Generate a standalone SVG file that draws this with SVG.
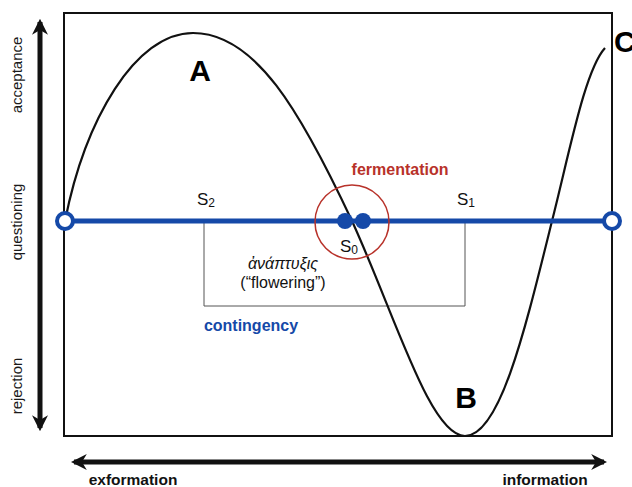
<svg xmlns="http://www.w3.org/2000/svg" width="632" height="487" viewBox="0 0 632 487">
<defs>
<style>
.lbl{font-family:"Liberation Sans",Arial,sans-serif;fill:#111}
.big{font-family:"Liberation Sans",Arial,sans-serif;font-weight:bold;font-size:30px;fill:#000}
.axis{font-family:"Liberation Sans",Arial,sans-serif;font-size:15px;fill:#1a1a1a}
.axisb{font-family:"Liberation Sans",Arial,sans-serif;font-size:15.5px;font-weight:bold;fill:#111}
.blue{stroke:#1549a8}
</style>
<marker id="ah" viewBox="0 0 10 10" refX="8" refY="5" markerWidth="3.2" markerHeight="3.4" orient="auto-start-reverse" markerUnits="strokeWidth">
<path d="M0,0 L10,5 L0,10 L3,5 Z" fill="#111"/>
</marker>
</defs>
<rect width="632" height="487" fill="#fff"/>
<g id="frame"><rect x="64" y="13" width="548" height="423" fill="none" stroke="#111" stroke-width="2"/></g>
<g id="axes">
<line x1="40" y1="22" x2="40" y2="428" stroke="#111" stroke-width="5" marker-start="url(#ah)" marker-end="url(#ah)"/>
<line x1="74" y1="462" x2="604" y2="462" stroke="#111" stroke-width="5" marker-start="url(#ah)" marker-end="url(#ah)"/>
<text class="axis" transform="translate(22,75) rotate(-90)" text-anchor="middle">acceptance</text>
<text class="axis" transform="translate(22,222) rotate(-90)" text-anchor="middle">questioning</text>
<text class="axis" transform="translate(22,386) rotate(-90)" text-anchor="middle">rejection</text>
<text class="axisb" x="133" y="485" text-anchor="middle">exformation</text>
<text class="axisb" x="545" y="485" text-anchor="middle">information</text>
</g>
<g id="box"><path d="M204,221 V306 H465 V221" fill="none" stroke="#555" stroke-width="1"/></g>
<g id="connectors">
<path id="curve" d="M65,221 C85,120 135,33 193,33 C255,33 300,110 352,221 C395,315 430,436 465,436 C500,436 525,330 552,221 C570,150 585,70 605,48" fill="none" stroke="#111" stroke-width="2.2"/>
<line class="blue" x1="65" y1="221" x2="612" y2="221" stroke-width="5"/>
</g>
<g id="fermentation">
<circle cx="352" cy="222" r="37" fill="none" stroke="#b8322a" stroke-width="1.5"/>
<text x="400" y="175" text-anchor="middle" font-family="Liberation Sans, Arial, sans-serif" font-weight="bold" font-size="16" fill="#b8322a">fermentation</text>
</g>
<g id="S0">
<circle cx="345" cy="221" r="8" fill="#1549a8"/>
<circle cx="363" cy="221" r="8" fill="#1549a8"/>
<text class="lbl" x="340" y="252" font-size="17">S<tspan font-size="12" dy="2">0</tspan></text>
</g>
<g id="endL"><circle cx="65" cy="221" r="8" fill="#fff" stroke="#1549a8" stroke-width="4"/></g>
<g id="endR"><circle cx="612" cy="221" r="8" fill="#fff" stroke="#1549a8" stroke-width="4"/></g>
<g id="S2"><text class="lbl" x="197" y="205" font-size="17">S<tspan font-size="12" dy="2">2</tspan></text></g>
<g id="S1"><text class="lbl" x="457" y="205" font-size="17">S<tspan font-size="12" dy="2">1</tspan></text></g>
<g id="anaptyxis">
<text class="lbl" x="283" y="269" text-anchor="middle" font-size="16" font-style="italic" fill="#222">ἀνάπτυξις</text>
<text class="lbl" x="283" y="288" text-anchor="middle" font-size="16" fill="#222">(“flowering”)</text>
</g>
<g id="contingency"><text x="251" y="331" text-anchor="middle" font-family="Liberation Sans, Arial, sans-serif" font-weight="bold" font-size="16" fill="#1549a8">contingency</text></g>
<g id="A"><text class="big" x="200" y="81" text-anchor="middle">A</text></g>
<g id="B"><text class="big" x="466" y="408" text-anchor="middle">B</text></g>
<g id="C"><text class="big" x="614" y="52">C</text></g>
</svg>
